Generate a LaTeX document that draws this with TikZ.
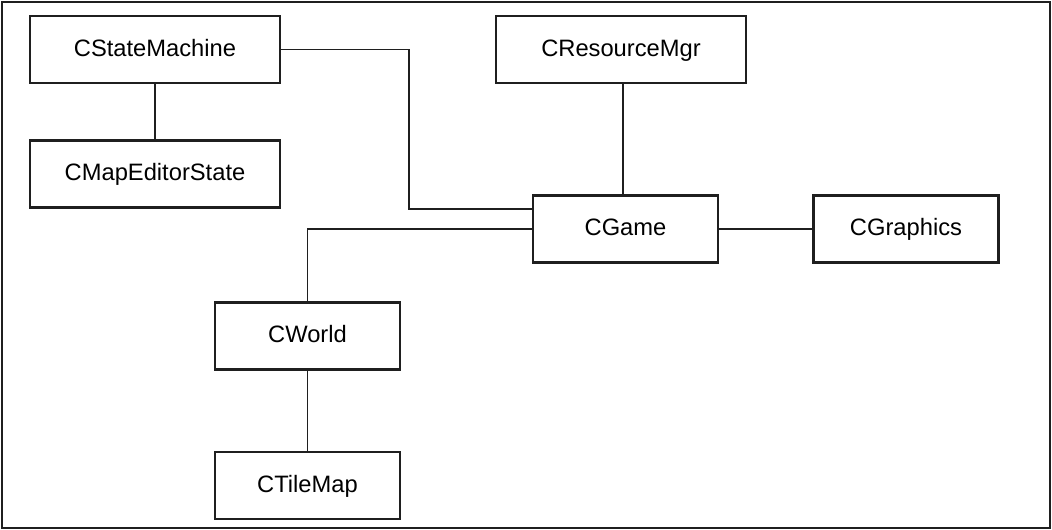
\documentclass[tikz,border=0pt]{standalone}
\usepackage{fontspec}
\setmainfont{Liberation Sans}
\usetikzlibrary{positioning}

\begin{document}
\begin{tikzpicture}[x=0.02cm, y=-0.02cm,
  widebox/.style={draw=black!88, line width=1.4pt, minimum width=5cm, minimum height=1.34cm, inner sep=0pt, text height=1.85ex, text depth=0.4ex, font=\fontsize{13.5}{16}\selectfont},
  narrowbox/.style={widebox, minimum width=3.7cm},
  link/.style={line width=1.1pt, draw=black!88},
]
\useasboundingbox (0,0) rectangle (1052,530);
\draw[line width=1pt, draw=black!88] (2,2) rectangle (1050,528);

\node[widebox] (statemachine) at (155,49.5) {CStateMachine};
\node[widebox] (mapeditor) at (155,174) {CMapEditorState};
\node[widebox] (resourcemgr) at (621,49.5) {CResourceMgr};
\node[narrowbox] (game) at (625.5,229) {CGame};
\node[narrowbox] (graphics) at (906,229) {CGraphics};
\node[narrowbox] (world) at (307.5,336) {CWorld};
\node[narrowbox] (tilemap) at (307.5,485.5) {CTileMap};

\coordinate (smbend) at (409,209);

\draw[link] (statemachine) -- (mapeditor);
\draw[link] (statemachine.east) -| (smbend) -- (game.west |- smbend);
\draw[link] (resourcemgr.south -| 623,0) -- (game.north -| 623,0);
\draw[link] (game) -- (graphics);
\draw[link] (game.west) -| (world.north);
\draw[link] (world) -- (tilemap);
\end{tikzpicture}
\end{document}
